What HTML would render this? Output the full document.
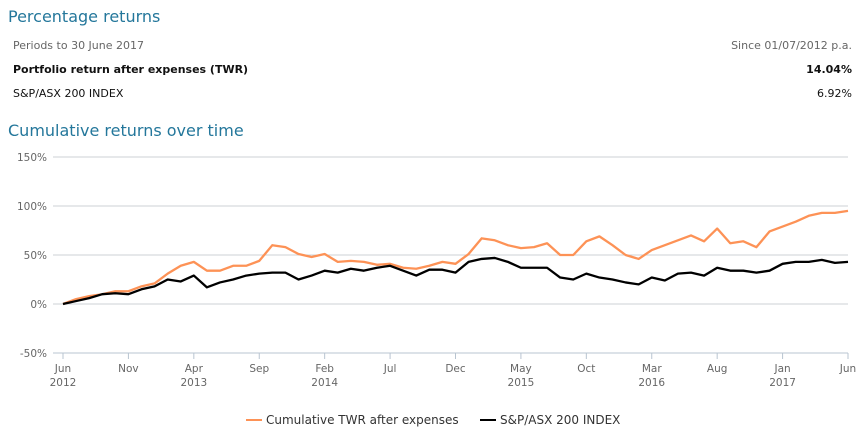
<!DOCTYPE html>
<html><head><meta charset="utf-8"><style>
body{margin:0;width:860px;height:437px;background:#fff;font-family:"DejaVu Sans","Liberation Sans",sans-serif;position:relative;overflow:hidden}
.t{position:absolute;white-space:nowrap}
</style></head><body>
<div class="t" style="left:8px;top:7px;font-size:16px;color:#24779b">Percentage returns</div>
<div class="t" style="left:13px;top:39px;font-size:11px;color:#666">Periods to 30 June 2017</div>
<div class="t" style="right:8px;top:39px;font-size:11px;color:#666">Since 01/07/2012 p.a.</div>
<div class="t" style="left:13px;top:63px;font-size:11px;font-weight:bold;color:#111">Portfolio return after expenses (TWR)</div>
<div class="t" style="right:8px;top:63px;font-size:11px;font-weight:bold;color:#111">14.04%</div>
<div class="t" style="left:13px;top:87px;font-size:11px;color:#111">S&amp;P/ASX 200 INDEX</div>
<div class="t" style="right:8px;top:87px;font-size:11px;color:#111">6.92%</div>
<div class="t" style="left:8px;top:121px;font-size:16px;color:#24779b">Cumulative returns over time</div>
<svg id="c" width="860" height="437" style="position:absolute;left:0;top:0"></svg>
<script>
const yTicks=[150,100,50,0,-50];
const xTickMonths=["Jun","Nov","Apr","Sep","Feb","Jul","Dec","May","Oct","Mar","Aug","Jan","Jun"];
const xTickYears=["2012","","2013","","2014","","","2015","","2016","","2017",""];
const twr=[0,5,8,10,13,13,18,21,31,39,43,34,34,39,39,44,60,58,51,48,51,43,44,43,40,41,37,36,39,43,41,51,67,65,60,57,58,62,50,50,64,69,60,50,46,55,60,65,70,64,77,62,64,58,74,79,84,90,93,93,95];
const asx=[0,3,6,10,11,10,15,18,25,23,29,17,22,25,29,31,32,32,25,29,34,32,36,34,37,39,34,29,35,35,32,43,46,47,43,37,37,37,27,25,31,27,25,22,20,27,24,31,32,29,37,34,34,32,34,41,43,43,45,42,43];
const svg=document.getElementById('c');const NS='http://www.w3.org/2000/svg';
const FF='DejaVu Sans, Liberation Sans, sans-serif';
const x0=63,x1=848,nM=60;
const X=m=>x0+(x1-x0)*m/nM;
const Y=v=>304-(v)*(49/50);
function mk(t,a,txt){const e=document.createElementNS(NS,t);for(const k in a)e.setAttribute(k,a[k]);if(txt!=null)e.textContent=txt;svg.appendChild(e);return e;}
yTicks.forEach(v=>{
 const l=mk('line',{x1:53,x2:848,y1:Y(v),y2:Y(v),stroke:'#ccd0d4','stroke-width':1});
 
 
 const t=mk('text',{x:47,y:Y(v)+4,'text-anchor':'end','font-size':10.5,fill:'#666','font-family':FF},v+'%');
 
 
});
const ax=mk('line',{x1:53,x2:848,y1:353,y2:353,stroke:'#b8c4d0','stroke-width':1});


xTickMonths.forEach((mn,i)=>{
 const x=X(i*5);
 const tk=mk('line',{x1:x,x2:x,y1:353,y2:359,stroke:'#b8c4d0'});
 
 
 const t=mk('text',{x:x,y:372,'text-anchor':'middle','font-size':10.5,fill:'#666','font-family':FF},mn);
 
 
 if(xTickYears[i]){const y=mk('text',{x:x,y:386,'text-anchor':'middle','font-size':10.5,fill:'#666','font-family':FF},xTickYears[i]);
 
 }
});
function line(d,c,n){const p=mk('polyline',{points:d.map((v,i)=>X(i)+','+Y(v)).join(' '),fill:'none',stroke:c,'stroke-width':2.3,'stroke-linejoin':'round'});
 
 }
line(twr,'#fd9256','twr-line');
line(asx,'#000','asx-line');
const l1=mk('line',{x1:246,x2:262,y1:420,y2:420,stroke:'#fd9256','stroke-width':2});


const t1=mk('text',{x:266,y:424,'font-size':12,fill:'#333','font-family':FF},'Cumulative TWR after expenses');


const l2=mk('line',{x1:480,x2:496,y1:420,y2:420,stroke:'#000','stroke-width':2});


const t2=mk('text',{x:500,y:424,'font-size':12,fill:'#333','font-family':FF},'S&P/ASX 200 INDEX');


</script>
</body></html>
